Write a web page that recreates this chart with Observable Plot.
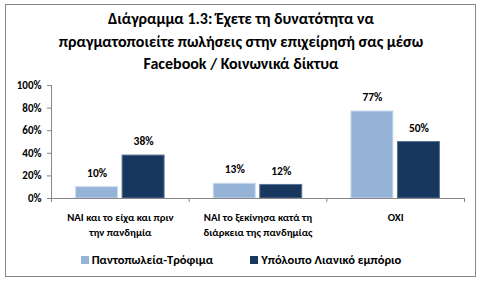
<!DOCTYPE html>
<html>
<head>
<meta charset="utf-8">
<script src="https://cdn.jsdelivr.net/npm/d3@7"></script>
<script src="https://cdn.jsdelivr.net/npm/@observablehq/plot@0.6"></script>
<style>
  html, body { margin: 0; padding: 0; background: #fff; }
  body { width: 482px; height: 283px; position: relative; overflow: hidden;
         font-family: Carlito, "Liberation Sans", Arial, sans-serif; }
  #frame { position: absolute; left: 5px; top: 4px; width: 471px; height: 273px;
           box-sizing: border-box; border: 1px solid #868686; }
  #title { position: absolute; left: 0; top: 8px; width: 482px; text-align: center;
           font-weight: bold; font-size: 16px; line-height: 22.5px; color: #000; }
  #chart { position: absolute; left: 0; top: 75px; }
  #legend { position: absolute; left: 0; top: 252px; width: 482px; display: flex;
            justify-content: center; gap: 37px; font-weight: bold; font-size: 12.5px; color: #000; }
  .item { display: flex; align-items: center; gap: 3px; }
  .sw { width: 8px; height: 8px; display: inline-block; }
</style>
</head>
<body>
<div id="frame"></div>
<div id="title">Διάγραμμα 1.3: Έχετε τη δυνατότητα να<br>πραγματοποιείτε πωλήσεις στην επιχείρησή σας μέσω<br>Facebook / Κοινωνικά δίκτυα</div>
<div id="chart"></div>
<div id="legend"></div>
<script>
const categories = [
  "ΝΑΙ και το είχα και πριν\nτην πανδημία",
  "ΝΑΙ το ξεκίνησα κατά τη\nδιάρκεια της πανδημίας",
  "ΟΧΙ"
];
const seriesNames = ["Παντοπωλεία-Τρόφιμα", "Υπόλοιπο Λιανικό εμπόριο"];
const groceries = [0.10, 0.13, 0.77];
const otherRetail = [0.38, 0.12, 0.50];
const yTicks = [0, 0.2, 0.4, 0.6, 0.8, 1.0];
const colors = ["#95B3D7", "#17375E"];
const strokes = ["#c9d9ee", "#5a7392"];

// layout within each category band (fractions of the band)
const PAD = 0.1785, BW = 0.305, GAP = 0.033;

const seriesValues = [groceries, otherRetail];
const rows = categories.flatMap((c, i) => seriesValues.map((vals, s) => ({
  cat: c, i, s, series: seriesNames[s], value: vals[i],
  x1: i + PAD + s * (BW + GAP), x2: i + PAD + s * (BW + GAP) + BW
})));

const font = `Carlito, "Liberation Sans", Arial, sans-serif`;
const plot = Plot.plot({
  width: 482,
  height: 170,
  marginLeft: 51,
  marginRight: 18,
  marginTop: 10,
  marginBottom: 47,
  style: {fontFamily: font, fontWeight: "bold", fontSize: "11px", color: "#000", background: "transparent"},
  x: {domain: [0, categories.length], axis: null},
  y: {domain: [0, 1], axis: null},
  color: {domain: seriesNames, range: colors},
  marks: [
    Plot.rectY(rows, {x1: "x1", x2: "x2", y: "value", fill: "series", stroke: d => strokes[d.s], strokeWidth: 1}),
    Plot.ruleY([0], {stroke: "#868686"}),
    Plot.ruleX([0], {y1: 0, y2: 1, stroke: "#868686"}),
    Plot.axisY({ticks: yTicks, tickSize: 4, tickPadding: 6, tickFormat: d3.format(".0%"), label: null,
      stroke: "#868686", fill: "#000", fontWeight: "bold", fontSize: 11}),
    Plot.axisX({ticks: d3.range(categories.length + 1), tickSize: 4, tickFormat: () => "", label: null,
      stroke: "#868686"}),
    Plot.axisX({ticks: categories.map((c, i) => i + 0.5), tickSize: 0, tickPadding: 12, label: null,
      tickFormat: v => categories[Math.floor(v)], lineHeight: 1.4,
      fill: "#000", fontWeight: "bold", fontSize: 10.8}),
    Plot.text(rows, {x: d => (d.x1 + d.x2) / 2, y: "value", text: d => d3.format(".0%")(d.value),
      dy: -14, fill: "#000", fontWeight: "bold", fontSize: 11.5})
  ]
});
document.getElementById("chart").appendChild(plot);

const legend = document.getElementById("legend");
seriesNames.forEach((name, s) => {
  const item = document.createElement("div");
  item.className = "item";
  const sw = document.createElement("span");
  sw.className = "sw";
  sw.style.background = colors[s];
  const label = document.createElement("span");
  label.textContent = name;
  item.appendChild(sw);
  item.appendChild(label);
  legend.appendChild(item);
});
</script>
</body>
</html>
